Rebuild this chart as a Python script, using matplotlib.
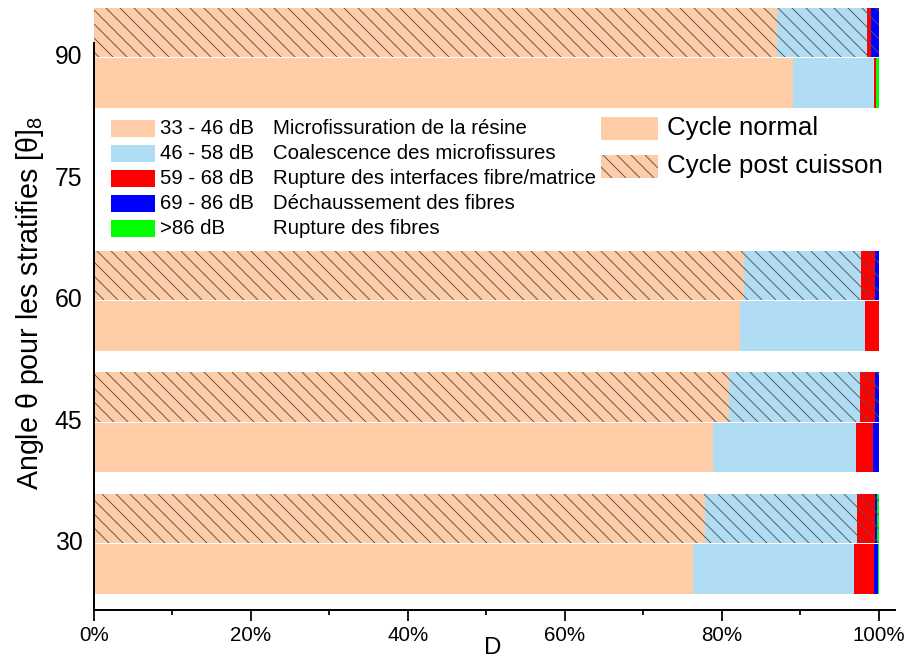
import matplotlib
matplotlib.use("Agg")
import matplotlib.pyplot as plt
from matplotlib.patches import Rectangle
from matplotlib.ticker import MultipleLocator, FuncFormatter

# Laminate orientation angles (deg) and acoustic-emission class shares (%)
angles = [30, 45, 60, 90]
ytick_values = [30, 45, 60, 75, 90]

class_ranges = ["33 - 46 dB", "46 - 58 dB", "59 - 68 dB", "69 - 86 dB", ">86 dB"]
class_names = ["Microfissuration de la résine",
               "Coalescence des microfissures",
               "Rupture des interfaces fibre/matrice",
               "Déchaussement des fibres",
               "Rupture des fibres"]
class_colors = ["#FFCCA8", "#B0DDF4", "#FF0000", "#0000FF", "#00FF00"]

# Cycle normal
normal_33_46 = [76.4, 78.9, 82.4, 89.1]
normal_46_58 = [20.5, 18.2, 15.9, 10.3]
normal_59_68 = [2.5, 2.2, 1.7, 0.3]
normal_69_86 = [0.5, 0.7, 0.0, 0.0]
normal_86p = [0.1, 0.0, 0.0, 0.3]

# Cycle post cuisson
post_33_46 = [77.9, 80.9, 82.8, 87.0]
post_46_58 = [19.3, 16.8, 15.0, 11.5]
post_59_68 = [2.3, 1.8, 1.7, 0.6]
post_69_86 = [0.3, 0.5, 0.5, 0.9]
post_86p = [0.2, 0.0, 0.0, 0.0]

cycle_labels = ["Cycle normal", "Cycle post cuisson"]

normal_series = [normal_33_46, normal_46_58, normal_59_68, normal_69_86, normal_86p]
post_series = [post_33_46, post_46_58, post_59_68, post_69_86, post_86p]

plt.rcParams["font.family"] = ["Liberation Sans", "DejaVu Sans"]
plt.rcParams["mathtext.fontset"] = "custom"
plt.rcParams["mathtext.rm"] = "Liberation Sans"
plt.rcParams["mathtext.it"] = "Liberation Sans"
plt.rcParams["hatch.color"] = "#555555"
plt.rcParams["hatch.linewidth"] = 0.8

W, H = 908, 661
DPI = 84
fig = plt.figure(figsize=(W / DPI, H / DPI), dpi=DPI)


def fx(px):
    return px / W


def fy(py):
    return 1 - py / H


ax = fig.add_axes([fx(94), fy(609.5), (895 - 94) / W, (609.5 - 42.7) / H])

bar_h = 6.1
post_offset = 2.75
normal_offset = -3.5
post_hatch = "\\\\"

for series, offset, hatch in ((normal_series, normal_offset, None),
                              (post_series, post_offset, post_hatch)):
    left = [0.0] * len(angles)
    for vals, col in zip(series, class_colors):
        ypos = [a + offset for a in angles]
        ax.barh(ypos, vals, height=bar_h, left=left, color=col,
                hatch=hatch, linewidth=0, clip_on=False)
        left = [l + v for l, v in zip(left, vals)]

ax.set_xlim(0, 102.1)
ax.set_ylim(21.5, 91.5)
ax.set_yticks(ytick_values)
ax.xaxis.set_major_locator(MultipleLocator(20))
ax.xaxis.set_minor_locator(MultipleLocator(10))
ax.xaxis.set_major_formatter(FuncFormatter(lambda v, p: f"{v:.0f}%"))

for s in ("top", "right"):
    ax.spines[s].set_visible(False)
for s in ("left", "bottom"):
    ax.spines[s].set_linewidth(1.7)

ax.tick_params(axis="x", which="major", direction="out", length=9.5, width=1.5,
               labelsize=17.6, pad=4.5)
ax.tick_params(axis="x", which="minor", direction="out", length=4.5, width=1.5)
ax.tick_params(axis="y", which="both", length=0, labelsize=21.2, pad=10)

ax.set_xlabel("D", fontsize=20.6)
ax.xaxis.set_label_coords(0.498, -0.049)
ax.set_ylabel("Angle θ pour les stratifies [θ]$_8$", fontsize=24.5)
ax.yaxis.set_label_coords(-0.060, 0.54)

# Legend of the amplitude classes
row_y = [128.5, 153.5, 178.5, 203.5, 228.5]
for yc, col, rng, name in zip(row_y, class_colors, class_ranges, class_names):
    fig.patches.append(Rectangle((fx(111), fy(yc + 8.5)), 44 / W, 17 / H,
                                 transform=fig.transFigure, facecolor=col,
                                 linewidth=0))
    fig.text(fx(160), fy(yc), rng, fontsize=17.5, va="center", ha="left")
    fig.text(fx(273), fy(yc), name, fontsize=17.5, va="center", ha="left")

# Legend of the two test cycles
cyc_y = [128.5, 166.5]
for yc, lab, hatch in zip(cyc_y, cycle_labels, [None, post_hatch]):
    fig.patches.append(Rectangle((fx(601), fy(yc + 11.5)), 57 / W, 23 / H,
                                 transform=fig.transFigure,
                                 facecolor=class_colors[0], hatch=hatch,
                                 linewidth=0))
    fig.text(fx(667), fy(yc), lab, fontsize=22.2, va="center", ha="left")

fig.savefig("out.png", dpi=DPI)
